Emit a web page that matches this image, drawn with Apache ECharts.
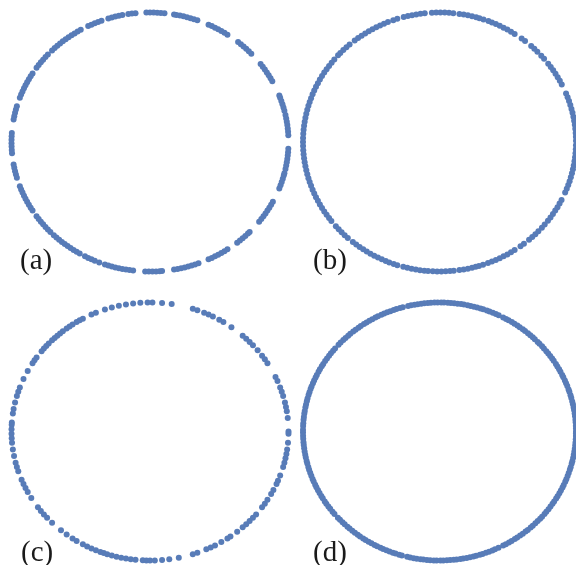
<!DOCTYPE html>
<html>
<head>
<meta charset="utf-8">
<script src="https://cdn.jsdelivr.net/npm/echarts@6/dist/echarts.min.js"></script>
<style>
html,body{margin:0;padding:0;background:#fff;}
#chart{width:576px;height:565px;}
</style>
</head>
<body>
<div id="chart"></div>
<script>
const anglesA = [
3,4.5,6,7.5,9,10.5,12,
14,15.5,17,18.5,20,21,
28,29.5,31,32.5,34,35.5,37,
43,44.5,46,47.5,49,50.5,
56,57.5,59,60.5,62,63.5,65,
70,71.5,73,74.5,76,77.5,79,80,
84,85.5,87,88.5,90,91.5,
96,97.5,99,
101.5,103,104.5,106,107.5,
110.5,112,113.5,115,116.5,
120,121.5,123,124.5,126,127.5,129,130.5,132,133.5,135,
137.5,139,140.5,142,143.5,145,
148,149.5,151,152.5,154,155.5,157,158.5,160,
164,165.5,167,168.5,170,
176,177.5,179,180.5,182,183.5,185,
190,191.5,193,194.5,196,
200,201.5,203,204.5,206,207.5,209,210.5,212,
215,216.5,218,219.5,221,222.5,224,
226,227.5,229,230.5,232,233.5,235,236.5,238,239.5,
242,243.5,245,246.5,248.5,
251,252.5,254,255.5,257,258.5,260,261.5,263,
268,269.5,271,272.5,274,275,
280,281.5,283,284.5,286,287.5,289,290.5,
295,296.5,298,299.5,301,302.5,304,
309,310.5,312,313.5,315,316,
322,323.5,325,326.5,328,329.5,331,332.5,
339,340.5,342,343.5,345,346,
348,349.5,351,352.5,354,355.5,357
];
const anglesB = [
0.5,2.3,4,5.9,7.6,9.5,11.2,13,14.8,16.6,18.4,20.2,22,
26.4,28.2,30,31.8,33.6,35.4,37.2,
40,41.8,
44.2,46,47.8,
51.2,53,
56.6,58.4,60.2,62,63.8,65.6,67.4,69,
71.2,73,74.4,
76.2,78,79.8,81.6,
84.2,86,87.8,89.6,91.4,93.2,
96.2,98,99.8,101.6,103.4,105.2,
108,109.8,
112.2,114,115.8,117.6,119.4,121.2,123,124.8,126.6,128.4,
131.2,133,134.8,136.6,138,
140.4,142.2,144,145.8,147.6,149.4,151.2,153,154.8,156.6,158.4,160.2,162,163.8,165.6,167.4,169.2,171,172.8,174.6,176.4,178.2,
180,181.8,183.6,185.4,187.2,189,190.8,192.6,194.4,196.2,198,199.8,201.6,203.4,205.2,207,208.8,210.6,212.4,214.2,216,217.6,
220.6,222.4,224.2,226,227.8,
230.6,232.4,234.2,236,237.8,239.6,241.4,243.2,245,246.8,248.4,
250.4,252,
254.6,256.4,258.2,260,261.8,263.6,265.2,
267.2,269,270.8,272.6,274.4,276,
278.4,280.2,282,283.8,285.4,
286.8,288.6,
290.8,292.6,294.4,296.2,298,299.8,301.6,303.4,
306.4,308.2,
311,312.8,314.6,316.4,
318.6,320.4,
322.6,324.4,326.2,328,329.8,331.6,333.4,
337,338.8,340.6,342.4,344.2,346,347.8,349.6,351.4,353.2,355,356.8,358.6
];
const anglesC = [
0,6,9,11,13,16,18,20,23,25,32,34,36,39,42,44,46,48,54,58,60,63,65,67,70,72,
81,85,89,91,94,97,100,103,106,109,113,115,119,120.5,122,124,125.5,127,129,130.5,132,133.5,135,137,138.5,140,141.5,145,146.5,148,152,156,
160,162,164,167,170,172,176,177,179,181,183,185,188,191,194,196,198,202,204,206,208,211,
216,218,220,222,225,230,233,236,238,241,243,245,247,249,250.5,252,254,256,258,260,262,264,267,268.5,270,272,275,278,282,
288,290,294,296,298,301,304,305.5,309,312,314,316,318,320,324,326,328,331,333,336,337.5,340,344,346,348,350,352,355,359
];
const anglesD = [
0,1.3,2.5,4.1,5.2,6.8,8,9.6,10.7,12.2,13.5,15.1,16.3,17.9,19,20.6,22,23.3,24.9,26,27.6,28.8,30.3,31.5,33.2,34.4,35.8,37.2,38.5,40.1,41.3,42.9,44,45.7,46.9,48.3,49.6,51.2,52.4,54,55.2,56.7,58,59.6,60.8,62.2,
64.3,65.6,67,68.5,69.7,71.3,72.5,74,75.4,76.8,78.1,79.7,80.9,82.4,83.8,85.2,86.5,88.1,89.3,90.8,92.1,93.6,94.9,96.4,97.7,99.2,100.5,102,103.3,
105.6,106.8,108.4,109.6,111.1,112.5,113.9,115.2,116.8,118,119.5,120.9,122.3,123.6,125.2,126.4,127.9,129.2,130.8,132,133.5,134.8,136.4,137.7,
139.9,141.2,142.7,144,145.5,146.9,148.4,149.6,151.2,152.4,154,155.2,156.7,158,159.6,160.8,162.3,163.6,165.2,166.4,167.9,169.2,170.8,172,173.5,174.8,176.3,177.6,179.2,
180.4,181.9,183.2,184.8,186,187.5,188.9,190.4,191.6,193.2,194.4,196,197.2,198.7,200.1,201.6,202.8,204.4,205.6,207.1,208.5,210,211.2,212.8,214,215.5,216.8,218.4,219.7,
221.9,223.2,224.7,226,227.6,228.8,230.3,231.7,233.2,234.4,236,237.2,238.7,240.1,241.6,242.8,244.4,245.6,247.1,248.5,250,251.2,252.8,254,
256.3,257.6,259.1,260.4,262,263.2,264.7,266.1,267.6,268.8,270.4,271.6,273.1,274.5,276,277.2,278.8,280,281.5,282.9,284.4,285.6,287.2,288.4,289.9,291.3,292.8,294,295.6,
297.8,299.1,300.6,301.9,303.5,304.7,306.2,307.6,309.1,310.3,311.9,313.1,314.6,316,317.5,318.7,320.3,321.5,323,324.4,325.9,327.1,328.7,329.9,331.4,332.8,334.3,335.5,337.1,338.3,339.8,341.2,342.7,343.9,345.5,346.7,348.2,349.6,351.1,352.3,353.9,355.1,356.6,358,359.2
];
const panelLabels = ['(a)', '(b)', '(c)', '(d)'];
const panelAngles = [anglesA, anglesB, anglesC, anglesD];

const grids = [
  {left: 11.5, top: 12.5, width: 277, height: 259},
  {left: 303, top: 12.5, width: 280, height: 259},
  {left: 11.5, top: 302.5, width: 277, height: 258},
  {left: 303, top: 302.5, width: 280, height: 258}
];
const labelPos = [[20, 247], [313, 247], [21, 539], [313, 539]];
const COLOR = '#587cb8';

function toXY(deg) {
  const r = deg * Math.PI / 180;
  return [Math.cos(r), Math.sin(r)];
}

const chart = echarts.init(document.getElementById('chart'), null, {renderer: 'canvas'});
const axisCommon = {type: 'value', min: -1, max: 1, show: false, splitLine: {show: false}};
chart.setOption({
  animation: false,
  backgroundColor: '#ffffff',
  grid: grids.map(g => Object.assign({containLabel: false}, g)),
  xAxis: grids.map((g, i) => Object.assign({gridIndex: i}, axisCommon)),
  yAxis: grids.map((g, i) => Object.assign({gridIndex: i}, axisCommon)),
  series: panelAngles.map((arr, i) => ({
    type: 'scatter',
    xAxisIndex: i,
    yAxisIndex: i,
    symbol: 'circle',
    symbolSize: 6,
    clip: false,
    itemStyle: {color: COLOR, opacity: 1},
    data: arr.map(toXY)
  })),
  graphic: panelLabels.map((t, i) => ({
    type: 'text',
    left: labelPos[i][0],
    top: labelPos[i][1],
    style: {
      text: t,
      fontFamily: 'Liberation Serif',
      fontSize: 29,
      fill: '#1a1a1a'
    }
  }))
});
</script>
</body>
</html>
